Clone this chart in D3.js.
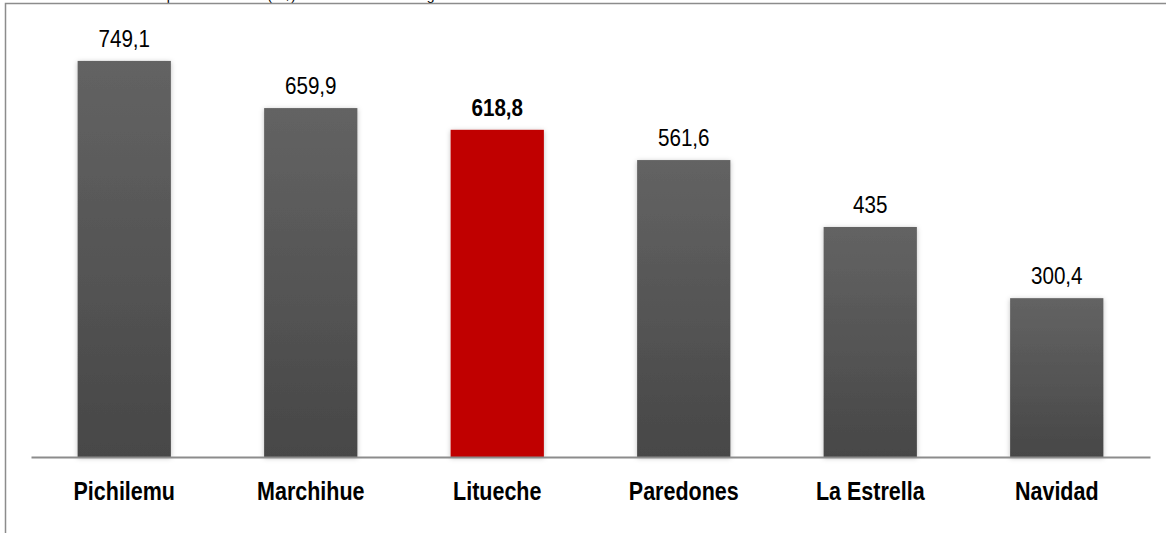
<!DOCTYPE html>
<html>
<head>
<meta charset="utf-8">
<script src="https://cdn.jsdelivr.net/npm/d3@7"></script>
<style>
    body { margin: 0; background: #fff; }
    svg { display: block; }
    .value-label { font-family: "Liberation Sans", Arial, sans-serif; font-size: 24px; fill: #000; }
    .cat-label { font-family: "Liberation Sans", Arial, sans-serif; font-size: 25px; font-weight: bold; fill: #000; }
</style>
</head>
<body>
<div id="chart"></div>
<script>
// data
const comunas = ["Pichilemu", "Marchihue", "Litueche", "Paredones", "La Estrella", "Navidad"];
const valores = [749.1, 659.9, 618.8, 561.6, 435, 300.4];
const etiquetas = ["749,1", "659,9", "618,8", "561,6", "435", "300,4"];
const destacada = "Litueche";
const titulo = "Monto promedio anual (M$) de inversión local según comuna";

const width = 1166, height = 533;
const margin = {top: 34, right: 16, bottom: 76, left: 31};
const narrow = 0.86; // the original uses a narrow face

const svg = d3.select("#chart").append("svg")
    .attr("width", width)
    .attr("height", height);

// gradient for grey bars
const defs = svg.append("defs");
const grad = defs.append("linearGradient")
    .attr("id", "barGrad")
    .attr("x1", "0%").attr("y1", "0%")
    .attr("x2", "0%").attr("y2", "100%");
grad.append("stop").attr("offset", "0%").attr("stop-color", "#636363");
grad.append("stop").attr("offset", "100%").attr("stop-color", "#474747");

const shadow = defs.append("filter").attr("id", "shadow")
    .attr("x", "-20%").attr("y", "-10%").attr("width", "140%").attr("height", "120%");
shadow.append("feDropShadow")
    .attr("dx", 0).attr("dy", 1).attr("stdDeviation", 2.5)
    .attr("flood-color", "#000").attr("flood-opacity", 0.25);

// title, mostly cut off above the frame (as in the original)
svg.append("text")
    .attr("x", 124)
    .attr("y", 0)
    .style("font-family", "Liberation Sans, Arial, sans-serif")
    .style("font-size", "14px")
    .text(titulo);

// frame
svg.append("path")
    .attr("d", `M5.5,${height} V3.5 H${width}`)
    .attr("fill", "none")
    .attr("stroke", "#8c8c8c")
    .attr("stroke-width", 1.5);

const x = d3.scaleBand()
    .domain(comunas)
    .range([margin.left, width - margin.right])
    .paddingInner(0.5)
    .paddingOuter(0.25);

const y = d3.scaleLinear()
    .domain([0, 800])
    .range([height - margin.bottom, height - margin.bottom - 423]);

const data = comunas.map((c, i) => ({comuna: c, valor: valores[i], etiqueta: etiquetas[i]}));

svg.selectAll(".bar")
    .data(data)
    .enter().append("rect")
    .attr("class", "bar")
    .attr("x", d => x(d.comuna))
    .attr("y", d => y(d.valor))
    .attr("width", x.bandwidth())
    .attr("height", d => y(0) - y(d.valor))
    .attr("fill", d => d.comuna === destacada ? "#c00000" : "url(#barGrad)")
    .attr("filter", "url(#shadow)");

// baseline axis
const xAxis = svg.append("g")
    .attr("transform", `translate(0,${y(0)})`)
    .call(d3.axisBottom(x).tickSize(0).tickPadding(25));
xAxis.select(".domain")
    .attr("stroke", "#8c8c8c")
    .attr("stroke-width", 2);
xAxis.selectAll("text")
    .attr("class", "cat-label")
    .attr("font-family", null)
    .attr("font-size", null)
    .attr("transform", `scale(${narrow},1)`);

// value labels
svg.selectAll(".value-label")
    .data(data)
    .enter().append("g")
    .attr("transform", d => `translate(${x(d.comuna) + x.bandwidth() / 2},${y(d.valor) - 14}) scale(${narrow},1)`)
    .append("text")
    .attr("class", "value-label")
    .attr("text-anchor", "middle")
    .style("font-weight", d => d.comuna === destacada ? "bold" : "normal")
    .text(d => d.etiqueta);
</script>
</body>
</html>
